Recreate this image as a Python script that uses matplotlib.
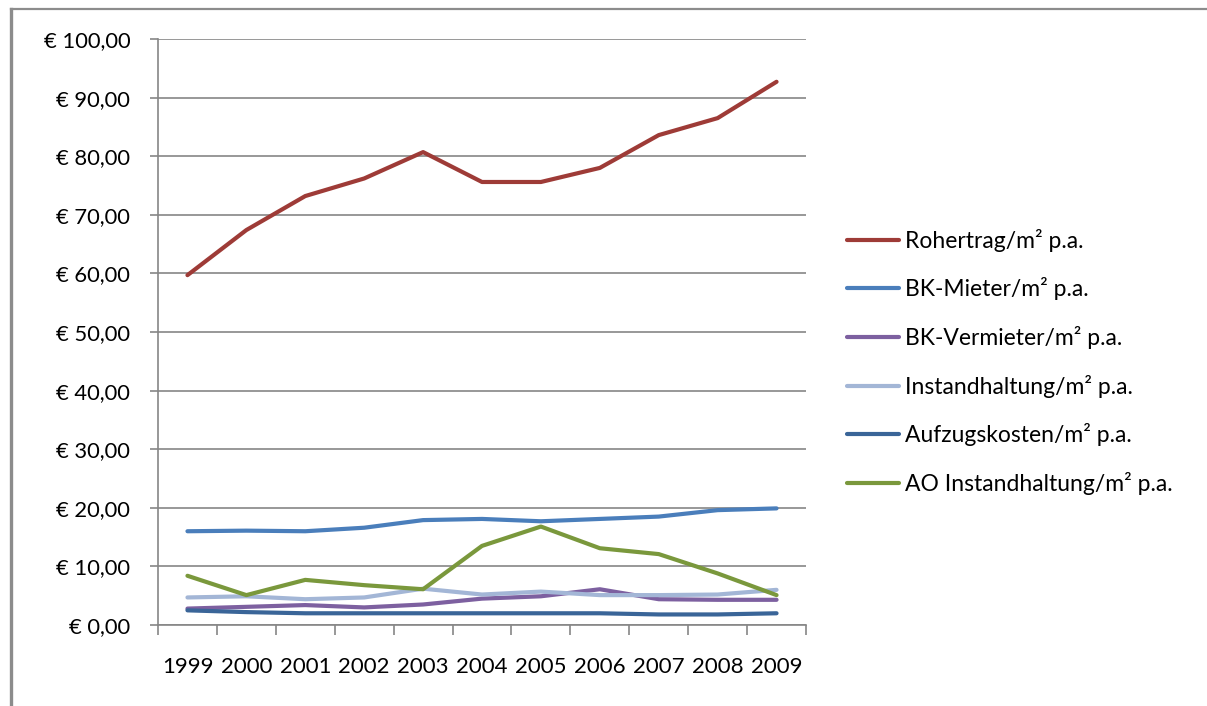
import matplotlib.pyplot as plt
from matplotlib.ticker import FuncFormatter, FixedLocator, NullFormatter
from matplotlib.lines import Line2D

# Jahre und Werte (EUR pro m² und Jahr)
jahre = ['1999', '2000', '2001', '2002', '2003', '2004', '2005', '2006', '2007', '2008', '2009']
rohertrag = [59.7, 67.4, 73.2, 76.2, 80.7, 75.6, 75.6, 78.0, 83.6, 86.5, 92.7]
bk_mieter = [16.0, 16.1, 16.0, 16.6, 17.9, 18.1, 17.7, 18.1, 18.5, 19.6, 19.9]
bk_vermieter = [2.8, 3.1, 3.4, 3.0, 3.5, 4.5, 4.9, 6.1, 4.4, 4.3, 4.3]
instandhaltung = [4.7, 4.9, 4.4, 4.7, 6.2, 5.2, 5.7, 5.1, 5.1, 5.2, 6.0]
aufzugskosten = [2.5, 2.2, 2.0, 2.0, 2.0, 2.0, 2.0, 2.0, 1.8, 1.8, 2.0]
ao_instandhaltung = [8.4, 5.1, 7.7, 6.8, 6.1, 13.5, 16.8, 13.1, 12.1, 8.8, 5.1]

reihen = [
    ('Rohertrag/m² p.a.', rohertrag, '#9E3B37'),
    ('BK-Mieter/m² p.a.', bk_mieter, '#4A7EBB'),
    ('BK-Vermieter/m² p.a.', bk_vermieter, '#7D60A0'),
    ('Instandhaltung/m² p.a.', instandhaltung, '#A3B6D6'),
    ('Aufzugskosten/m² p.a.', aufzugskosten, '#3A6598'),
    ('AO Instandhaltung/m² p.a.', ao_instandhaltung, '#7A983C'),
]

plt.rcParams['font.family'] = ['Lato', 'DejaVu Sans']
grau = '#868686'

fig = plt.figure(figsize=(12.07, 7.06), dpi=100)
ax = fig.add_axes([158 / 1207, 1 - 625 / 706, (806 - 158) / 1207, (625 - 39) / 706])

x = list(range(len(jahre)))
for name, werte, farbe in reihen:
    ax.plot(x, werte, color=farbe, lw=3.0, label=name, solid_capstyle='round')

ax.set_xlim(-0.5, len(jahre) - 0.5)
ax.set_ylim(0, 100)
ax.set_yticks(range(0, 101, 10))
ax.yaxis.set_major_formatter(FuncFormatter(lambda v, p: ('€ %.2f' % v).replace('.', ',')))
ax.grid(axis='y', color=grau, lw=1.2)
ax.set_axisbelow(True)

# Ticks an den Kategoriegrenzen, Beschriftung in der Mitte
ax.xaxis.set_major_locator(FixedLocator([i - 0.5 for i in range(len(jahre) + 1)]))
ax.xaxis.set_major_formatter(NullFormatter())
ax.xaxis.set_minor_locator(FixedLocator(x))
ax.set_xticklabels(jahre, minor=True)
ax.tick_params(axis='x', which='minor', length=0, pad=23, labelsize=16)
ax.tick_params(axis='x', which='major', length=7, width=1.2, color=grau, direction='out')
ax.tick_params(axis='y', length=6, width=1.2, color=grau, pad=14, labelsize=15.8)

for s in ['top', 'right']:
    ax.spines[s].set_visible(False)
for s in ['left', 'bottom']:
    ax.spines[s].set_color(grau)
    ax.spines[s].set_linewidth(1.2)

fig.legend(loc='upper left', bbox_to_anchor=(826 / 1207, 1 - 208 / 706), frameon=False,
           fontsize=16.5, handlelength=2.3, handletextpad=0.25, labelspacing=1.12)

# Rahmen des Diagrammbereichs (links und oben sichtbar)
fig.add_artist(Line2D([10.5 / 1207, 10.5 / 1207], [0, 1 - 9 / 706], transform=fig.transFigure, color='#8C8C8C', lw=2.4))
fig.add_artist(Line2D([10.5 / 1207, 1], [1 - 9 / 706, 1 - 9 / 706], transform=fig.transFigure, color='#8C8C8C', lw=1.6))

fig.savefig('out.png', dpi=100)
